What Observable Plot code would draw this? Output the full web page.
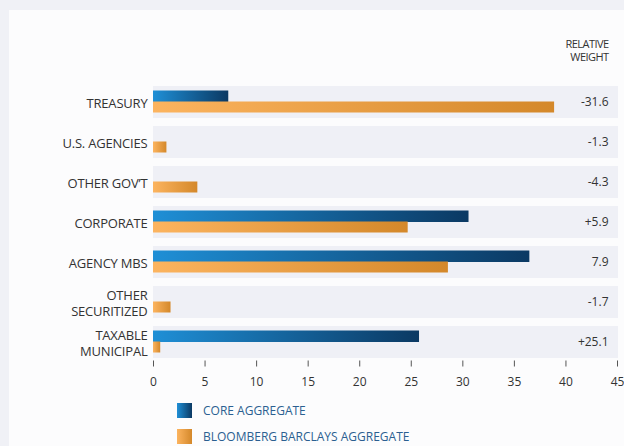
<!DOCTYPE html>
<html>
<head>
<meta charset="utf-8">
<script src="https://cdn.jsdelivr.net/npm/d3@7"></script>
<script src="https://cdn.jsdelivr.net/npm/@observablehq/plot@0.6"></script>
<style>
  html, body { margin: 0; padding: 0; background: #f0f1f6; }
  body { width: 624px; height: 446px; overflow: hidden; position: relative; font-family: "Open Sans", sans-serif; }
  #panel { position: absolute; left: 9px; top: 10px; width: 615px; height: 436px; background: #fcfcfd; }
  .leg { position: absolute; left: 168px; display: flex; align-items: center; font-size: 12px; line-height: 14px; color: #2b5f91; }
  .sw { width: 15px; height: 15px; margin-right: 11px; }
</style>
</head>
<body>
<div id="panel"></div>
<script>
const categories = ["TREASURY", "U.S. AGENCIES", "OTHER GOV’T", "CORPORATE", "AGENCY MBS", "OTHER\nSECURITIZED", "TAXABLE\nMUNICIPAL"];
const coreAggregate = [7.3, 0, 0, 30.6, 36.5, 0, 25.8];
const bloombergAggregate = [38.9, 1.3, 4.3, 24.7, 28.6, 1.7, 0.7];
const relativeWeight = ["-31.6", "-1.3", "-4.3", "+5.9", "7.9", "-1.7", "+25.1"];
const xTicks = [0, 5, 10, 15, 20, 25, 30, 35, 40, 45];

const rows = categories.map((c, i) => ({cat: c, core: coreAggregate[i], bb: bloombergAggregate[i], rel: relativeWeight[i]}));

const chart = Plot.plot({
  width: 615,
  height: 385,
  marginLeft: 144,
  marginRight: 7,
  marginTop: 76,
  marginBottom: 37.5,
  style: {fontFamily: "Open Sans, sans-serif", fontSize: "12px", color: "#333", background: "transparent"},
  x: {domain: [0, 45], ticks: xTicks},
  y: {domain: categories, paddingInner: 0.2125, paddingOuter: 0},
  marks: [
    Plot.barX(rows, {y: "cat", x1: 0, x2: 45, fill: "#eff0f6", insetRight: -1}),
    Plot.barX(rows, {y: "cat", x1: 0, x2: "core", fill: "url(#gCore)", insetTop: 4.5, insetBottom: 16}),
    Plot.barX(rows, {y: "cat", x1: 0, x2: "bb", fill: "url(#gBB)", insetTop: 15.5, insetBottom: 5.5}),
    Plot.text(rows, {y: "cat", text: "rel", frameAnchor: "right", textAnchor: "end", dx: -9, fontSize: 12, fill: "#333"}),
    Plot.text(["RELATIVE\nWEIGHT"], {frameAnchor: "top-right", textAnchor: "end", lineAnchor: "top", dx: -9, dy: -47, fontSize: 11, lineHeight: 1.12, fill: "#333", className: "hdr"}),
    Plot.axisX({ticks: xTicks, tickSize: 6, tickPadding: 10, dy: 3, stroke: "#555", fill: "#333", fontSize: 12, label: null}),
    Plot.axisY({tickSize: 0, tickPadding: 6, fill: "#333", fontSize: 13, lineHeight: 1.25, label: null, className: "ylab"})
  ]
});

const svg = d3.select(chart);
svg.selectAll(".hdr").style("letter-spacing", "-0.55px");
svg.selectAll(".ylab").style("letter-spacing", "-0.2px");
const defs = svg.insert("defs", ":first-child");
const g1 = defs.append("linearGradient").attr("id", "gCore").attr("x1", "0").attr("x2", "1").attr("y1", "0").attr("y2", "0");
g1.append("stop").attr("offset", "0").attr("stop-color", "#1f8fd6");
g1.append("stop").attr("offset", "1").attr("stop-color", "#0b3963");
const g2 = defs.append("linearGradient").attr("id", "gBB").attr("x1", "0").attr("x2", "1").attr("y1", "0").attr("y2", "0");
g2.append("stop").attr("offset", "0").attr("stop-color", "#fcb45f");
g2.append("stop").attr("offset", "1").attr("stop-color", "#d4882a");

const panel = document.getElementById("panel");
panel.appendChild(chart);

const legendItems = [
  {label: "CORE AGGREGATE", grad: "linear-gradient(to right, #1f8fd6, #0b3963)", top: 393},
  {label: "BLOOMBERG BARCLAYS AGGREGATE", grad: "linear-gradient(to right, #fcb45f, #d4882a)", top: 419}
];
for (const it of legendItems) {
  const d = document.createElement("div");
  d.className = "leg";
  d.style.top = it.top + "px";
  const s = document.createElement("div");
  s.className = "sw";
  s.style.background = it.grad;
  const t = document.createElement("span");
  t.textContent = it.label;
  d.appendChild(s); d.appendChild(t);
  panel.appendChild(d);
}
chart.style.position = "absolute";
chart.style.left = "0px";
chart.style.top = "0px";
</script>
</body>
</html>
